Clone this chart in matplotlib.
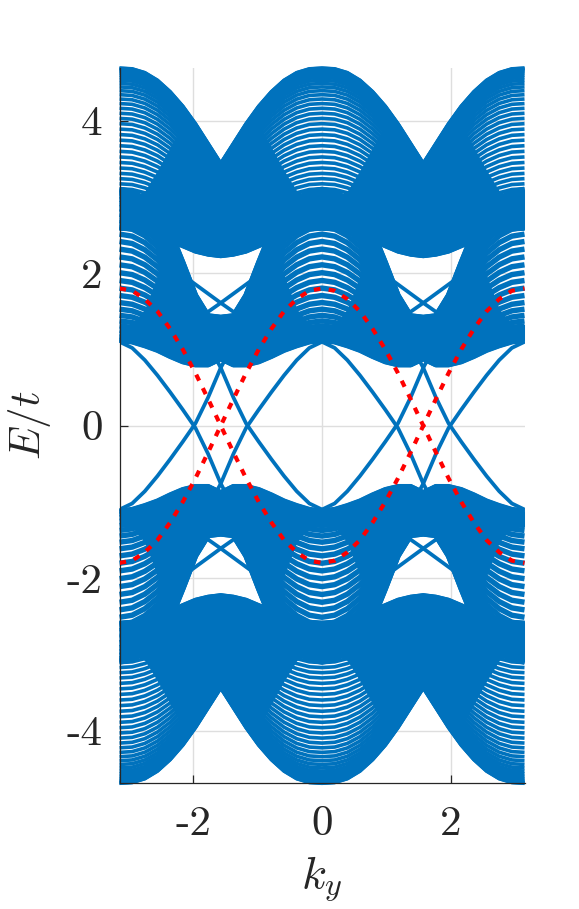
import numpy as np
import matplotlib.pyplot as plt

plt.rcParams['mathtext.fontset'] = 'cm'

# ky samples between -pi/2 and 0; the chart repeats mirrored about
# ky = -pi/2, ky = 0 and E = 0, so only this quarter is read off
ky_q = np.array([-1.5708, -1.3744, -1.1781, -0.9817, -0.7854, -0.5890, -0.3927, -0.1963, 0.0])

# outer edges of the two bulk bundles (positive energies)
top_upper = [3.44, 3.70, 3.96, 4.19, 4.38, 4.53, 4.63, 4.68, 4.69]
top_lower = [2.22, 2.24, 2.28, 2.35, 2.42, 2.48, 2.53, 2.57, 2.58]
mid_upper = [1.42, 1.44, 1.71, 2.14, 2.55, 2.80, 2.97, 3.07, 3.10]
mid_lower = [0.88, 0.80, 0.80, 0.84, 0.91, 0.99, 1.05, 1.10, 1.12]

# top of the part of each bundle where the lines merge into solid colour
top_solid = [3.44, 3.70, 3.96, 3.95, 3.65, 3.35, 3.08, 3.00, 3.10]
mid_solid = [1.42, 1.44, 1.71, 2.14, 2.42, 1.97, 1.53, 1.33, 1.33]

# where each band line sits inside its bundle (0 = lower edge, 1 = upper edge), lower half
top_frac = [0.0, 0.0012, 0.0049, 0.0109, 0.0194, 0.0302, 0.0432, 0.0585, 0.0760, 0.0955,
            0.1170, 0.1403, 0.1654, 0.1922, 0.2204, 0.25, 0.2808, 0.3127, 0.3455, 0.3790,
            0.4132, 0.4477, 0.4826]
mid_frac = [0.0, 0.0027, 0.0109, 0.0245, 0.0432, 0.0670, 0.0955, 0.1284, 0.1654, 0.2061,
            0.25, 0.2966, 0.3455, 0.3960, 0.4477, 0.5]

# red dotted curve
red_q = [0.0, 0.35, 0.69, 1.00, 1.27, 1.50, 1.66, 1.77, 1.80]

# edge state crossing zero near ky = -2
edge_ky = [-3.1416, -2.9452, -2.7489, -2.5525, -2.3562, -2.1598, -1.9635, -1.7671, -1.5708, -1.45]
edge_E = [1.10, 1.02, 0.86, 0.66, 0.44, 0.21, -0.03, -0.37, -0.76, -0.95]

# in-gap state inside the pocket near ky = -pi/2
pocket_ky = [-2.40, -2.04, -1.5708, -1.25]
pocket_E = [2.14, 1.90, 1.61, 1.42]

BLUE = '#0072BD'
GREY = '#262626'


def unfold(vals):
    # quarter -> [-pi, 0] -> [-pi, pi]
    v = np.asarray(vals, dtype=float)
    kx = np.concatenate([-np.pi - ky_q[::-1], ky_q[1:]])
    vv = np.concatenate([v[::-1], v[1:]])
    kx = np.concatenate([kx, -kx[::-1][1:]])
    vv = np.concatenate([vv, vv[::-1][1:]])
    return kx, vv


ky, tu = unfold(top_upper)
_, tl = unfold(top_lower)
_, mu = unfold(mid_upper)
_, ml = unfold(mid_lower)
_, ts = unfold(top_solid)
_, ms = unfold(mid_solid)
_, red = unfold(red_q)

tf = np.concatenate([top_frac, 1 - np.array(top_frac[::-1])])
mf = np.concatenate([mid_frac, 1 - np.array(mid_frac[::-1][1:])])

fig = plt.figure(figsize=(5.79, 9.09), dpi=100)
ax = fig.add_axes([0.2064, 0.1383, 0.6995, 0.7868])

ek = np.array(edge_ky)
ee = np.array(edge_E)
pk = np.array(pocket_ky)
pe = np.array(pocket_E)

for s in (1, -1):
    ax.fill_between(ky, s * tl, s * ts, color=BLUE, lw=0, zorder=2)
    ax.fill_between(ky, s * ml, s * ms, color=BLUE, lw=0, zorder=2)
    for f in tf:
        ax.plot(ky, s * (tl + f * (tu - tl)), color=BLUE, lw=2.6,
                solid_capstyle='butt', clip_on=False, zorder=2)
    for f in mf:
        ax.plot(ky, s * (ml + f * (mu - ml)), color=BLUE, lw=3.9,
                solid_capstyle='butt', clip_on=False, zorder=2)
    for kk, ee2 in ((ek, ee), (-np.pi - ek, ee), (-ek, ee), (np.pi + ek, ee),
                    (pk, pe), (-np.pi - pk, pe), (-pk, pe), (np.pi + pk, pe)):
        ax.plot(kk, s * ee2, color=BLUE, lw=2.7, solid_capstyle='butt', zorder=2)
    ax.plot(ky, s * red, color='red', lw=3.0, ls=(0, (1.6, 2.0)),
            dash_capstyle='butt', zorder=3)

ax.set_xlim(-np.pi, np.pi)
ax.set_ylim(-4.69, 4.69)
ax.set_xticks([-2, 0, 2])
ax.set_xticklabels(['-2', '0', '2'], fontfamily='cmr10')
ax.set_yticks([-4, -2, 0, 2, 4])
ax.set_yticklabels(['-4', '-2', '0', '2', '4'], fontfamily='cmr10')
ax.tick_params(direction='in', length=5.5, width=0.9, color=GREY,
               labelcolor=GREY, labelsize=31)
ax.tick_params(axis='x', pad=16)
ax.tick_params(axis='y', pad=12)
for side in ('top', 'right'):
    ax.spines[side].set_visible(False)
for side in ('left', 'bottom'):
    ax.spines[side].set_color(GREY)
    ax.spines[side].set_linewidth(0.9)
ax.grid(True, color='#dedede', lw=1.0)
ax.set_axisbelow(True)

ax.set_xlabel(r'$k_y$', fontsize=33, color=GREY, labelpad=8)
ax.set_ylabel(r'$E/t$', fontsize=31, color=GREY, labelpad=10)

fig.savefig('out.png', dpi=100)
